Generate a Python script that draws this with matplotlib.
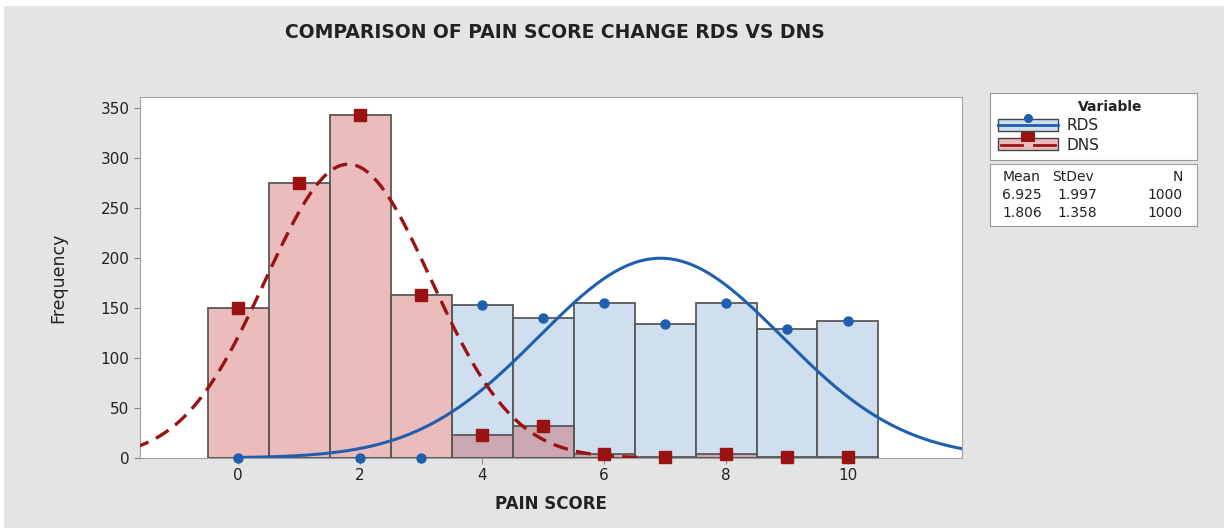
import numpy as np
import matplotlib.pyplot as plt
from matplotlib.patches import Rectangle

# pain score bins and counts
scores = [0, 1, 2, 3, 4, 5, 6, 7, 8, 9, 10]
rds_counts = [0, np.nan, 0, 0, 153, 140, 155, 134, 155, 129, 137]  # no marker shown at 1
dns_counts = [150, 275, 343, 163, 23, 32, 4, 1, 4, 1, 1]

# fitted normal parameters from the stats box
rds_mean, rds_sd, rds_n = 6.925, 1.997, 1000
dns_mean, dns_sd, dns_n = 1.806, 1.358, 1000

title = "COMPARISON OF PAIN SCORE CHANGE RDS VS DNS"

blue = "#1f5fae"
red = "#9b1212"
blue_fill = "#cfdff0"
red_fill = (198 / 255, 64 / 255, 64 / 255, 0.35)
edge = "#585858"
bg = "#e4e4e4"

W, H = 1224, 528
fig = plt.figure(figsize=(W / 100, H / 100), dpi=100, facecolor="white")
# grey panel with thin white strip at top/left like the screenshot
fig.patches.append(Rectangle((4 / W, 0), 1, 1 - 6 / H, transform=fig.transFigure,
                             facecolor=bg, edgecolor="none", zorder=-1))


def px_axes(x0, y0, x1, y1):
    return fig.add_axes([x0 / W, 1 - y1 / H, (x1 - x0) / W, (y1 - y0) / H])


ax = px_axes(140, 97, 962, 458)
ax.set_facecolor("white")

ax.bar(scores, np.nan_to_num(rds_counts), width=1.0, facecolor=blue_fill, edgecolor=edge, linewidth=1.3, zorder=2)
ax.bar(scores, dns_counts, width=1.0, facecolor=red_fill, edgecolor=edge, linewidth=1.3, zorder=3)

xs = np.linspace(-1.7, 12.0, 400)
rds_curve = rds_n / (rds_sd * np.sqrt(2 * np.pi)) * np.exp(-0.5 * ((xs - rds_mean) / rds_sd) ** 2)
dns_curve = dns_n / (dns_sd * np.sqrt(2 * np.pi)) * np.exp(-0.5 * ((xs - dns_mean) / dns_sd) ** 2)
# tails flat on the axis are hidden behind the frame in the original
rds_curve[rds_curve < 0.5] = np.nan
dns_curve[dns_curve < 0.5] = np.nan
ax.plot(xs, rds_curve, color=blue, lw=2.2, zorder=4)
ax.plot(xs, dns_curve, color=red, lw=2.4, ls=(0, (4.5, 2.5)), zorder=4)

ax.plot(scores, rds_counts, "o", color=blue, ms=6.5, ls="none", zorder=5, clip_on=False)
ax.plot(scores, dns_counts, "s", color=red, ms=9, ls="none", zorder=6, clip_on=False)

ax.set_xlim(-1.61, 11.87)
ax.set_ylim(0, 361)
ax.set_xticks([0, 2, 4, 6, 8, 10])
ax.set_yticks(range(0, 351, 50))
ax.tick_params(labelsize=11, colors="#222222", length=4, color="#888888")
for s in ax.spines.values():
    s.set_color("#a0a0a0")
ax.set_xlabel("PAIN SCORE", fontsize=12, fontweight="bold", color="#222222", labelpad=8)
ax.set_ylabel("Frequency", fontsize=12.5, color="#222222", labelpad=24)

fig.text(555 / W, 1 - 32 / H, title, ha="center", va="center",
         fontsize=13.5, fontweight="bold", color="#222222")

# legend box
lg = px_axes(990, 93, 1197, 160)
lg.set_xlim(990, 1197)
lg.set_ylim(160, 93)
lg.set_xticks([])
lg.set_yticks([])
for s in lg.spines.values():
    s.set_color("#9a9a9a")
lg.text(1110, 107, "Variable", ha="center", va="center", fontsize=10, fontweight="bold", color="#222222")
lg.add_patch(Rectangle((998, 119), 60, 12, facecolor=blue_fill, edgecolor="#444444", lw=1))
lg.plot([998, 1058], [125, 125], color=blue, lw=2)
lg.plot([1028], [118.5], "o", color=blue, ms=5.5, clip_on=False)
lg.add_patch(Rectangle((998, 138), 60, 12, facecolor="#ebbcbc", edgecolor="#444444", lw=1))
lg.plot([1001, 1022], [145, 145], color=red, lw=2)
lg.plot([1034, 1055], [145, 145], color=red, lw=2)
lg.add_patch(Rectangle((1021, 132), 14, 10, facecolor=red, edgecolor="none"))
lg.text(1067, 126, "RDS", ha="left", va="center", fontsize=11, color="#222222")
lg.text(1067, 145, "DNS", ha="left", va="center", fontsize=11, color="#222222")

# stats box
st = px_axes(990, 164, 1197, 226)
st.set_xlim(990, 1197)
st.set_ylim(226, 164)
st.set_xticks([])
st.set_yticks([])
for s in st.spines.values():
    s.set_color("#9a9a9a")
st.text(1003, 177, "Mean", ha="left", va="center", fontsize=10, color="#222222")
st.text(1052, 177, "StDev", ha="left", va="center", fontsize=10, color="#222222")
st.text(1183, 177, "N", ha="right", va="center", fontsize=10, color="#222222")
for row_y, m, sd, n in [(195, rds_mean, rds_sd, rds_n), (213, dns_mean, dns_sd, dns_n)]:
    st.text(1042, row_y, f"{m:.3f}", ha="right", va="center", fontsize=10, color="#222222")
    st.text(1097, row_y, f"{sd:.3f}", ha="right", va="center", fontsize=10, color="#222222")
    st.text(1183, row_y, f"{n}", ha="right", va="center", fontsize=10, color="#222222")

fig.savefig("out.png", dpi=100, facecolor=fig.get_facecolor())
